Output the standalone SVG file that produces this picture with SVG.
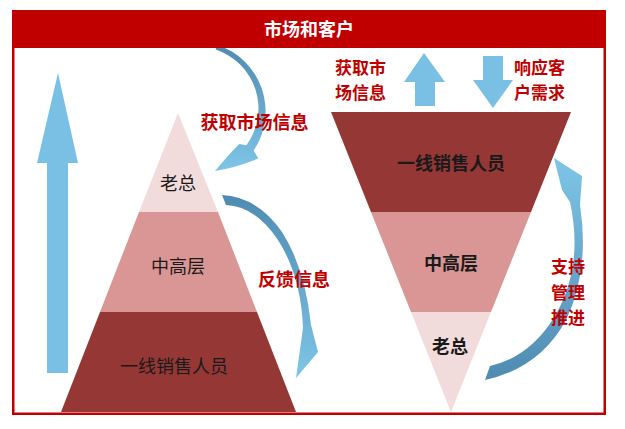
<svg xmlns="http://www.w3.org/2000/svg" width="625" height="429" viewBox="0 0 625 429">
<defs>
<style>
.lbl{font-family:"Noto Sans CJK SC","Noto Sans",sans-serif;font-size:18px;dominant-baseline:central;}
.stk{font-size:17px;}
.red{fill:#C00000;font-weight:700;}
.blk{fill:#1a1a1a;}
.bold{font-weight:700;}
.blue{fill:#7AC0E4;}
.l1{fill:#F2DCDB;}
.l2{fill:#D99694;}
.l3{fill:#953735;}
</style>
<linearGradient id="gDown" x1="0" y1="0" x2="0" y2="1">
<stop offset="0" stop-color="#4F8BB0"/>
<stop offset="1" stop-color="#7EC5E8"/>
</linearGradient>
<linearGradient id="gUp" x1="0" y1="1" x2="0" y2="0">
<stop offset="0" stop-color="#4F8BB0"/>
<stop offset="1" stop-color="#7EC5E8"/>
</linearGradient>
</defs>
<rect x="0" y="0" width="625" height="429" fill="#FFFFFF"/>
<rect x="13.25" y="11.25" width="591.5" height="402.5" fill="#FFFFFF" stroke="#C00000" stroke-width="2.5"/>

<g id="left-pyramid">
<g id="lp-top"><polygon class="l1" points="178,113 218,212 139,212"/><text class="lbl blk" x="178" y="182" text-anchor="middle">老总</text></g>
<g id="lp-mid"><polygon class="l2" points="139,212 218,212 257,312 100,312"/><text class="lbl blk" x="178" y="265" text-anchor="middle">中高层</text></g>
<g id="lp-bot"><polygon class="l3" points="100,312 257,312 296,412 61,412"/><text class="lbl blk" x="174" y="365" text-anchor="middle">一线销售人员</text></g>
</g>

<g id="right-pyramid">
<g id="rp-top"><polygon class="l3" points="331,112 571,112 531,212 371,212"/><text class="lbl blk bold" x="451" y="162" text-anchor="middle">一线销售人员</text></g>
<g id="rp-mid"><polygon class="l2" points="371,212 531,212 491,312 411,312"/><text class="lbl blk bold" x="451" y="262" text-anchor="middle">中高层</text></g>
<g id="rp-bot"><polygon class="l1" points="411,312 491,312 451,412"/><text class="lbl blk bold" x="450" y="345" text-anchor="middle">老总</text></g>
</g>

<g id="connectors">
<polygon id="big-up-arrow" class="blue" points="58,73 78,163 68,163 68,373 47,373 47,163 37,163"/>
<polygon id="up-arrow" class="blue" points="424,53 445,82 435,82 435,106 415,106 415,82 404,82"/>
<polygon id="down-arrow" class="blue" points="483,56 503,56 503,80 513,80 493,108 473,80 483,80"/>
<path id="curve-get-info" fill="url(#gDown)" d="M217.2,44.9 A70,70 0 0 1 253.7,150.5 L258.3,158.6 Q235,168 215,171 Q228,155 239.3,143.9 L246.4,145.3 A62,62 0 0 0 215.6,49.6 Z"/>
<path id="curve-feedback" fill="url(#gDown)" d="M222,195 Q258,197 282,232 Q305,268 311,325 L318,352 L296,378 L303,328 Q301,276 278,240 Q255,206 226,205 Z"/>
<path id="curve-support" fill="url(#gUp)" d="M485,380 Q540,368 566,320 Q590,270 580,205 L582,176 L554,158 L562,190 L570,202 Q584,266 555,316 Q530,357 490,366 Z"/>
</g>

<g id="header">
<rect x="12" y="10" width="594" height="38" fill="#C00000"/>
<text class="lbl" x="309" y="28" text-anchor="middle" fill="#FFFFFF" font-weight="700" font-size="21">市场和客户</text>
</g>

<g id="labels">
<text class="lbl red" x="254.5" y="121" text-anchor="middle">获取市场信息</text>
<text class="lbl red stk" x="335" y="66">获取市<tspan x="335" dy="25">场信息</tspan></text>
<text class="lbl red stk" x="514" y="66">响应客<tspan x="514" dy="25">户需求</tspan></text>
<text class="lbl red" x="258" y="278">反馈信息</text>
<text class="lbl red stk" x="551" y="265.5">支持<tspan x="551" dy="25">管理</tspan><tspan x="551" dy="25">推进</tspan></text>
</g>
</svg>
